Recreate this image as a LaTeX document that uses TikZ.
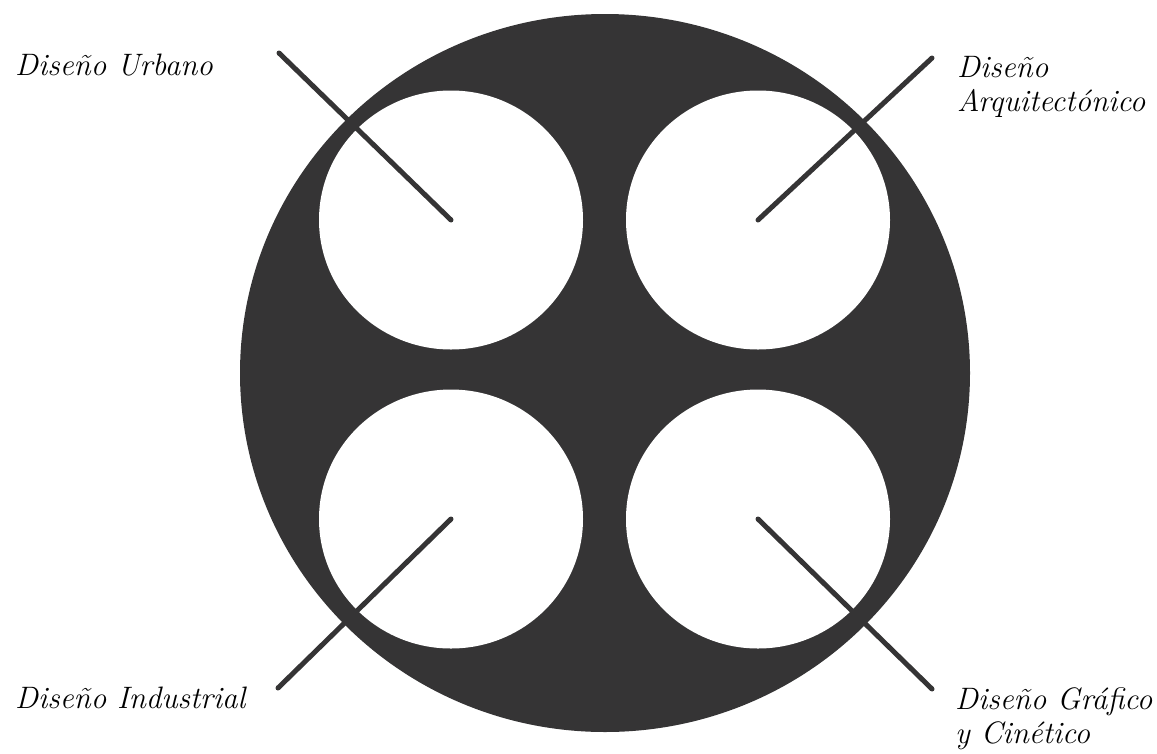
\documentclass[tikz,border=0pt]{standalone}
\usepackage{tikz}
\usetikzlibrary{shapes.geometric}
\definecolor{ink}{HTML}{353435}

\begin{document}
\begin{tikzpicture}[x=1pt, y=-1pt, font=\fontsize{31}{34}\selectfont\itshape,
  disc/.style={ellipse, fill=ink, inner sep=0pt, minimum width=730pt, minimum height=718pt},
  hole/.style={ellipse, fill=white, inner sep=0pt, minimum width=264pt, minimum height=259pt},
  spoke/.style={draw=ink, line width=5pt, line cap=round},
  lbl/.style={anchor=base west, align=left, inner sep=0pt}]
\useasboundingbox (0,0) rectangle (1157,753);
\node[disc] (disc) at (605,373) {};
\node[hole] (urb) at (451,220) {};
\node[hole] (arq) at (758,220) {};
\node[hole] (ind) at (451,519) {};
\node[hole] (gra) at (758,519) {};
% free ends of the spokes, next to the labels
\coordinate (urbEnd) at (279,53);
\coordinate (arqEnd) at (932,58);
\coordinate (indEnd) at (278,688);
\coordinate (graEnd) at (932,689);
\draw[spoke] (urb.center) -- (urbEnd);
\draw[spoke] (arq.center) -- (arqEnd);
\draw[spoke] (ind.center) -- (indEnd);
\draw[spoke] (gra.center) -- (graEnd);
% two-line labels sit on the baseline of their last line
\node[lbl] (urbLbl) at (15,75) {Diseño Urbano};
\node[lbl] (arqLbl) at (957,111) {Diseño\\Arquitectónico};
\node[lbl] (indLbl) at (15,708) {Diseño Industrial};
\node[lbl] (graLbl) at (955,743) {Diseño Gráfico\\y Cinético};
\end{tikzpicture}
\end{document}
